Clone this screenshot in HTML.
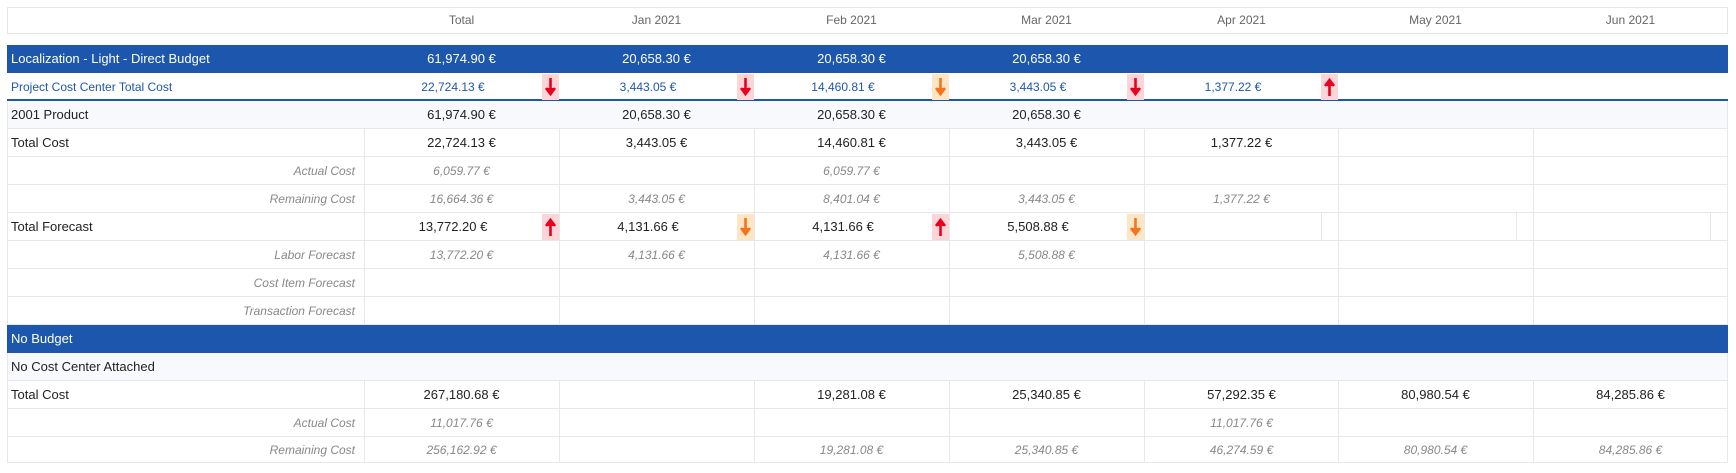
<!DOCTYPE html>
<html><head><meta charset="utf-8"><style>
*{margin:0;padding:0;box-sizing:border-box}
body{width:1736px;height:473px;background:#fff;position:relative;overflow:hidden;font-family:"Liberation Sans",sans-serif;font-size:13px;color:#222}
div{position:absolute}
.hdr{left:7px;top:7px;width:1721px;height:27px;border:1px solid #e6e6e6}
.h{top:7px;height:27px;line-height:27px;width:195px;text-align:center;color:#666;font-size:12px}
.band{left:7px;width:1721px;height:28px;background:#1c57ad;color:#fff}
.row{left:7px;width:1721px;border-bottom:1px solid #e8e8e8}
.lt{background:#f7f9fc}
.v{width:195px;text-align:center;line-height:28px;height:28px}
.f{width:178px;text-align:center;line-height:28px;height:28px}
.lab{left:11px;line-height:28px}
.il{right:1381px;line-height:28px;font-style:italic;color:#888;font-size:12px}
.i{font-style:italic;color:#888;font-size:12px}
.b{color:#1c57ad;font-size:12px}
.vl{width:1px;background:#e8e8e8}
.ar{width:17px;height:26px}
.r{background:#fcd5d8}.o{background:#fde6c6}
.ar svg{position:absolute;left:3px;top:4px}
</style></head><body>
<div class="hdr"></div>
<div class="h" style="left:364px">Total</div>
<div class="h" style="left:559px">Jan 2021</div>
<div class="h" style="left:754px">Feb 2021</div>
<div class="h" style="left:949px">Mar 2021</div>
<div class="h" style="left:1144px">Apr 2021</div>
<div class="h" style="left:1338px">May 2021</div>
<div class="h" style="left:1533px">Jun 2021</div>

<div class="band" style="top:45px"></div>
<div class="lab" style="top:45px;color:#fff">Localization - Light - Direct Budget</div>
<div class="v" style="left:364px;top:45px;color:#fff">61,974.90 €</div>
<div class="v" style="left:559px;top:45px;color:#fff">20,658.30 €</div>
<div class="v" style="left:754px;top:45px;color:#fff">20,658.30 €</div>
<div class="v" style="left:949px;top:45px;color:#fff">20,658.30 €</div>

<div style="left:7px;top:99px;width:1721px;height:2px;background:#1c57ad"></div>
<div class="lab b" style="top:73px">Project Cost Center Total Cost</div>
<div class="f b" style="left:364px;top:73px">22,724.13 €</div>
<div class="f b" style="left:559px;top:73px">3,443.05 €</div>
<div class="f b" style="left:754px;top:73px">14,460.81 €</div>
<div class="f b" style="left:949px;top:73px">3,443.05 €</div>
<div class="f b" style="left:1144px;top:73px">1,377.22 €</div>
<div class="ar r" style="left:542px;top:74px"><svg width="11" height="18"><path d="M5.5 0V14M1 10L5.5 16L10 10" stroke="#e8001c" stroke-width="2.6" fill="#e8001c"/></svg></div>
<div class="ar r" style="left:737px;top:74px"><svg width="11" height="18"><path d="M5.5 0V14M1 10L5.5 16L10 10" stroke="#e8001c" stroke-width="2.6" fill="#e8001c"/></svg></div>
<div class="ar o" style="left:932px;top:74px"><svg width="11" height="18"><path d="M5.5 0V14M1 10L5.5 16L10 10" stroke="#f7731a" stroke-width="2.6" fill="#f7731a"/></svg></div>
<div class="ar r" style="left:1127px;top:74px"><svg width="11" height="18"><path d="M5.5 0V14M1 10L5.5 16L10 10" stroke="#e8001c" stroke-width="2.6" fill="#e8001c"/></svg></div>
<div class="ar r" style="left:1321px;top:74px"><svg width="11" height="18"><path d="M5.5 18V4M1 8L5.5 2L10 8" stroke="#e8001c" stroke-width="2.6" fill="#e8001c"/></svg></div>

<div class="row lt" style="top:101px;height:28px"></div>
<div class="lab" style="top:101px">2001 Product</div>
<div class="v" style="left:364px;top:101px">61,974.90 €</div>
<div class="v" style="left:559px;top:101px">20,658.30 €</div>
<div class="v" style="left:754px;top:101px">20,658.30 €</div>
<div class="v" style="left:949px;top:101px">20,658.30 €</div>

<div class="row" style="top:129px;height:28px"></div>
<div class="row" style="top:157px;height:28px"></div>
<div class="row" style="top:185px;height:28px"></div>
<div class="row" style="top:213px;height:28px"></div>
<div class="row" style="top:241px;height:28px"></div>
<div class="row" style="top:269px;height:28px"></div>
<div class="row" style="top:297px;height:28px"></div>
<div class="vl" style="left:7px;top:101px;height:224px"></div>
<div class="vl" style="left:1727px;top:101px;height:224px"></div>
<div class="vl" style="left:364px;top:129px;height:196px"></div>
<div class="vl" style="left:559px;top:129px;height:196px"></div>
<div class="vl" style="left:754px;top:129px;height:196px"></div>
<div class="vl" style="left:949px;top:129px;height:196px"></div>
<div class="vl" style="left:1144px;top:129px;height:196px"></div>
<div class="vl" style="left:1338px;top:129px;height:196px"></div>
<div class="vl" style="left:1533px;top:129px;height:196px"></div>
<div class="vl" style="left:1321px;top:213px;height:28px"></div>
<div class="vl" style="left:1516px;top:213px;height:28px"></div>
<div class="vl" style="left:1710px;top:213px;height:28px"></div>

<div class="lab" style="top:129px">Total Cost</div>
<div class="v" style="left:364px;top:129px">22,724.13 €</div>
<div class="v" style="left:559px;top:129px">3,443.05 €</div>
<div class="v" style="left:754px;top:129px">14,460.81 €</div>
<div class="v" style="left:949px;top:129px">3,443.05 €</div>
<div class="v" style="left:1144px;top:129px">1,377.22 €</div>

<div class="il" style="top:157px">Actual Cost</div>
<div class="v i" style="left:364px;top:157px">6,059.77 €</div>
<div class="v i" style="left:754px;top:157px">6,059.77 €</div>

<div class="il" style="top:185px">Remaining Cost</div>
<div class="v i" style="left:364px;top:185px">16,664.36 €</div>
<div class="v i" style="left:559px;top:185px">3,443.05 €</div>
<div class="v i" style="left:754px;top:185px">8,401.04 €</div>
<div class="v i" style="left:949px;top:185px">3,443.05 €</div>
<div class="v i" style="left:1144px;top:185px">1,377.22 €</div>

<div class="lab" style="top:213px">Total Forecast</div>
<div class="f" style="left:364px;top:213px">13,772.20 €</div>
<div class="f" style="left:559px;top:213px">4,131.66 €</div>
<div class="f" style="left:754px;top:213px">4,131.66 €</div>
<div class="f" style="left:949px;top:213px">5,508.88 €</div>
<div class="ar r" style="left:542px;top:214px"><svg width="11" height="18"><path d="M5.5 18V4M1 8L5.5 2L10 8" stroke="#e8001c" stroke-width="2.6" fill="#e8001c"/></svg></div>
<div class="ar o" style="left:737px;top:214px"><svg width="11" height="18"><path d="M5.5 0V14M1 10L5.5 16L10 10" stroke="#f7731a" stroke-width="2.6" fill="#f7731a"/></svg></div>
<div class="ar r" style="left:932px;top:214px"><svg width="11" height="18"><path d="M5.5 18V4M1 8L5.5 2L10 8" stroke="#e8001c" stroke-width="2.6" fill="#e8001c"/></svg></div>
<div class="ar o" style="left:1127px;top:214px"><svg width="11" height="18"><path d="M5.5 0V14M1 10L5.5 16L10 10" stroke="#f7731a" stroke-width="2.6" fill="#f7731a"/></svg></div>

<div class="il" style="top:241px">Labor Forecast</div>
<div class="v i" style="left:364px;top:241px">13,772.20 €</div>
<div class="v i" style="left:559px;top:241px">4,131.66 €</div>
<div class="v i" style="left:754px;top:241px">4,131.66 €</div>
<div class="v i" style="left:949px;top:241px">5,508.88 €</div>
<div class="il" style="top:269px">Cost Item Forecast</div>
<div class="il" style="top:297px">Transaction Forecast</div>

<div class="band" style="top:325px"></div>
<div class="lab" style="top:325px;color:#fff">No Budget</div>

<div class="row lt" style="top:353px;height:28px"></div>
<div class="lab" style="top:353px">No Cost Center Attached</div>
<div class="row" style="top:381px;height:28px"></div>
<div class="row" style="top:409px;height:28px"></div>
<div class="row" style="top:437px;height:26px"></div>
<div class="vl" style="left:7px;top:353px;height:110px"></div>
<div class="vl" style="left:1727px;top:353px;height:110px"></div>
<div class="vl" style="left:364px;top:381px;height:82px"></div>
<div class="vl" style="left:559px;top:381px;height:82px"></div>
<div class="vl" style="left:754px;top:381px;height:82px"></div>
<div class="vl" style="left:949px;top:381px;height:82px"></div>
<div class="vl" style="left:1144px;top:381px;height:82px"></div>
<div class="vl" style="left:1338px;top:381px;height:82px"></div>
<div class="vl" style="left:1533px;top:381px;height:82px"></div>

<div class="lab" style="top:381px">Total Cost</div>
<div class="v" style="left:364px;top:381px">267,180.68 €</div>
<div class="v" style="left:754px;top:381px">19,281.08 €</div>
<div class="v" style="left:949px;top:381px">25,340.85 €</div>
<div class="v" style="left:1144px;top:381px">57,292.35 €</div>
<div class="v" style="left:1338px;top:381px">80,980.54 €</div>
<div class="v" style="left:1533px;top:381px">84,285.86 €</div>

<div class="il" style="top:409px">Actual Cost</div>
<div class="v i" style="left:364px;top:409px">11,017.76 €</div>
<div class="v i" style="left:1144px;top:409px">11,017.76 €</div>

<div class="il" style="top:436px">Remaining Cost</div>
<div class="v i" style="left:364px;top:436px">256,162.92 €</div>
<div class="v i" style="left:754px;top:436px">19,281.08 €</div>
<div class="v i" style="left:949px;top:436px">25,340.85 €</div>
<div class="v i" style="left:1144px;top:436px">46,274.59 €</div>
<div class="v i" style="left:1338px;top:436px">80,980.54 €</div>
<div class="v i" style="left:1533px;top:436px">84,285.86 €</div>
</body></html>
